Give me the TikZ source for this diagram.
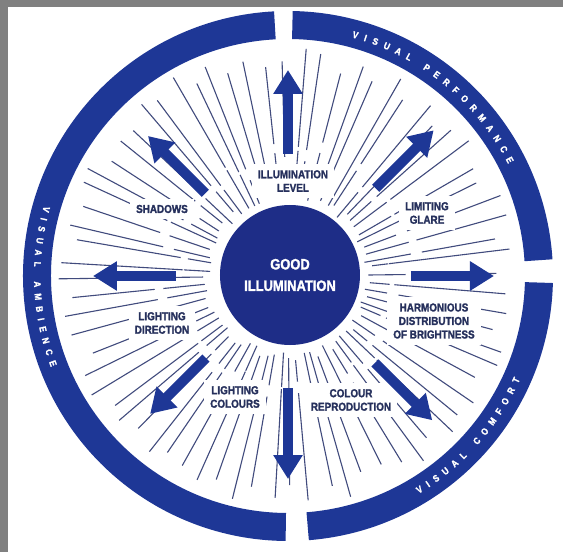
\documentclass[tikz,border=0pt]{standalone}
\usepackage{fontspec}
\setmainfont{Liberation Sans}
\newfontfamily\labelfont{Liberation Sans}[FakeStretch=0.86, BoldFeatures={FakeBold=1.6}]
\usetikzlibrary{arrows.meta,decorations.text}

\definecolor{ringblue}{RGB}{30,55,150}
\definecolor{discblue}{RGB}{30,45,135}
\definecolor{raygray}{RGB}{65,75,125}
\definecolor{labelnavy}{RGB}{38,48,92}
\definecolor{framegray}{RGB}{128,128,128}

\tikzset{
  ring/.style={draw=ringblue, line width=28pt},
  ray/.style={draw=raygray, line width=1.1pt},
  bigarrow/.style={draw=ringblue, line width=10pt, -{Triangle[width=28pt,length=24pt]}},
  lbl/.style={fill=white, text=labelnavy, align=center, inner sep=6pt,
    font=\labelfont\bfseries\fontsize{11.5}{13.5}\selectfont},
  disc/.style={circle, fill=discblue, text=white, align=center, minimum size=140pt,
    font=\labelfont\bfseries\fontsize{15}{21.5}\selectfont},
  ringtext/.style={decorate, decoration={text along path, text align={fit to path},
    text={|\labelfont\bfseries\fontsize{9.5}{9.5}\selectfont\color{white}|#1}}}
}

\begin{document}
\begin{tikzpicture}[x=1pt,y=1pt]
        \useasboundingbox (-288,-276) rectangle (275,276);
        \fill[white] (-288,-276) rectangle (275,276);

        % grey frame
        \fill[framegray] (-288,-276) rectangle (-280,276);
        \fill[framegray] (-288,269) rectangle (275,276);

        % rays
        \pgfmathsetseed{12}
        \foreach \a in {0,5,...,355}{
          \pgfmathsetmacro\b{\a+2*rnd}
          \pgfmathsetmacro\rin{76+10*rnd}
          \pgfmathsetmacro\rmid{100+30*rnd}
          \pgfmathsetmacro\rgap{\rmid+12*rnd}
          \pgfmathsetmacro\rout{208+22*rnd}
          \draw[ray] (\b:\rin) -- (\b:\rmid) (\b:\rgap) -- (\b:\rout);
        }

        % labels
        \node[lbl] (level) at (5,95) {ILLUMINATION\\LEVEL};
        \node[lbl] (glare) at (139,63) {LIMITING\\GLARE};
        \node[lbl] (harmony) at (146,-45) {HARMONIOUS\\DISTRIBUTION\\OF BRIGHTNESS};
        \node[lbl] (colour) at (63,-124) {COLOUR\\REPRODUCTION};
        \node[lbl] (lightcol) at (-53,-121) {LIGHTING\\COLOURS};
        \node[lbl] (direction) at (-126,-47) {LIGHTING\\DIRECTION};
        \node[lbl] (shadows) at (-126,67) {SHADOWS};

        % arrows
        \foreach \a/\rt/\rh [count=\i] in {90/122/206, 45/124/206, 0/123/206, -45/123/204,
            -90/112/203, -135/116/195, 180/112/195, 135/117/198}{
          \coordinate (tail\i) at (\a:\rt);
          \coordinate (tip\i) at (\a:\rh);
          \draw[bigarrow] (tail\i) -- (tip\i);
        }

        % centre
        \node[disc] (good) at (2,1) {GOOD\\ILLUMINATION};

        % outer ring
        \draw[ring] (93:251) arc[start angle=93, end angle=269.5, radius=251];
        \draw[ring] (3.6:251) arc[start angle=3.6, end angle=89, radius=251];
        \draw[ring] (-85.5:251) arc[start angle=-85.5, end angle=-1.5, radius=251];

        \path[ringtext={VISUAL PERFORMANCE}] (75:247) arc[start angle=75, end angle=27, radius=247];
        \path[ringtext={VISUAL AMBIENCE}] (164:254) arc[start angle=164, end angle=201, radius=254];
        \path[ringtext={VISUAL COMFORT}] (-59:254) arc[start angle=-59, end angle=-24, radius=254];
    \end{tikzpicture}
\end{document}
